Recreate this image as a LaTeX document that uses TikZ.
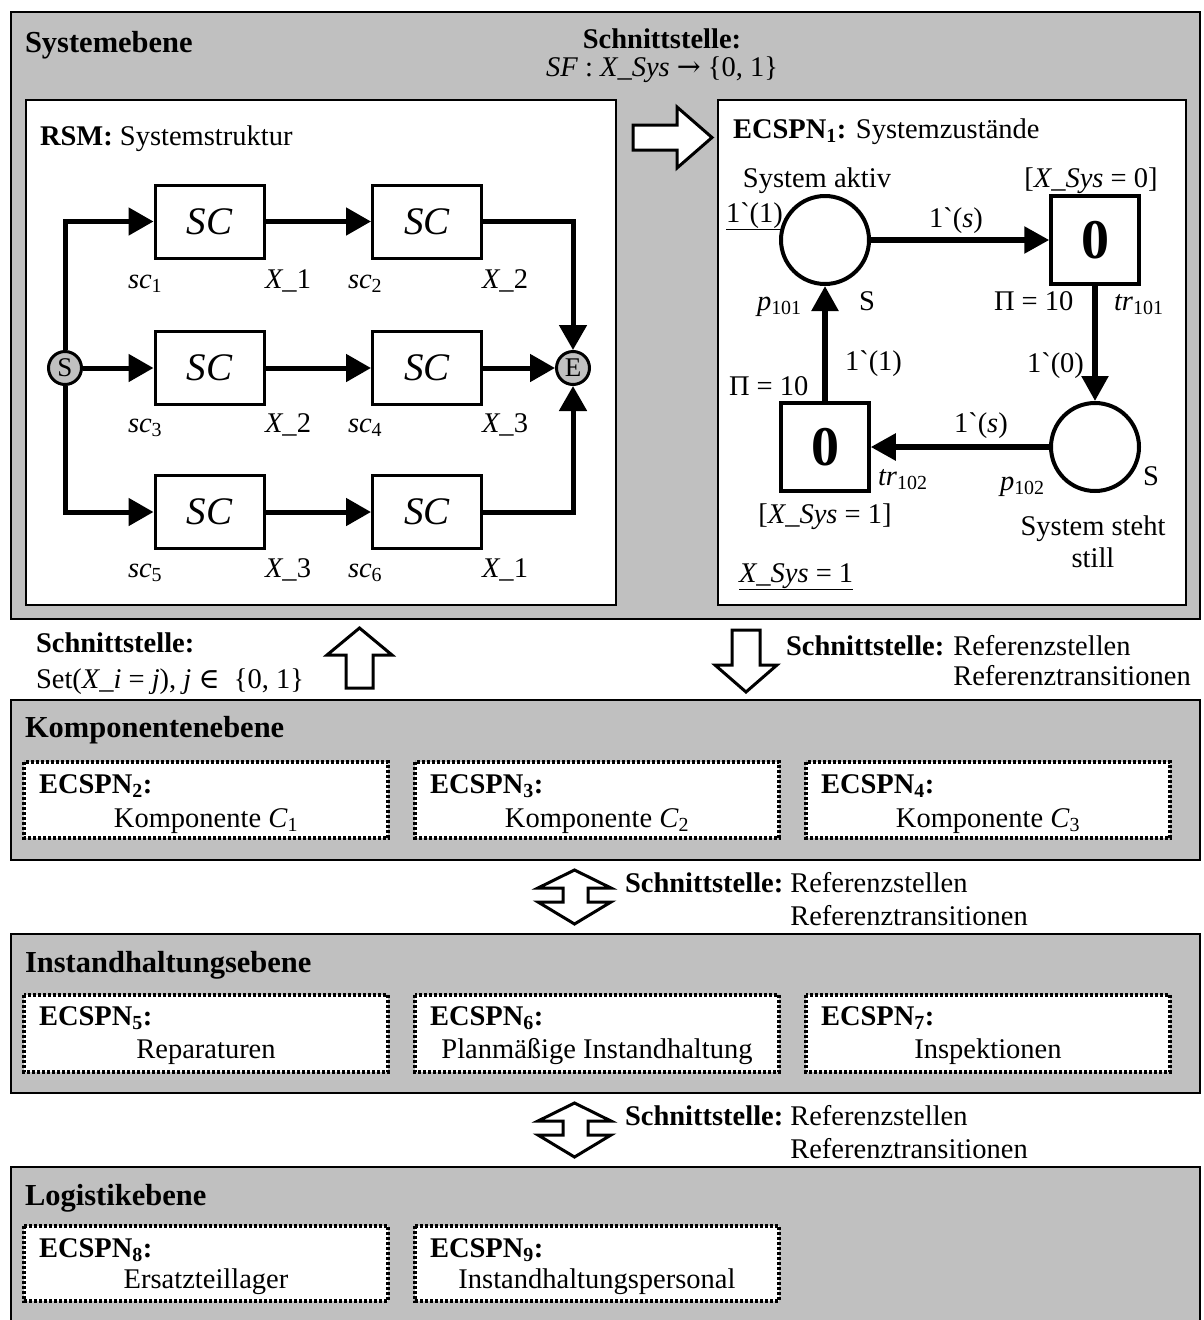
\documentclass[tikz,border=0pt]{standalone}
\usepackage{fontspec}
\setmainfont{Liberation Serif}
\newfontfamily\symserif{DejaVu Serif}
\usetikzlibrary{arrows.meta}
\definecolor{panelgray}{HTML}{C0C0C0}

\newcommand\bodyfs{\fontsize{28.5}{33}\selectfont}
\newcommand\titlefs{\fontsize{30.5}{34}\selectfont\bfseries}
\newcommand\scfs{\fontsize{39}{42}\selectfont\itshape}
\newcommand\zerofs{\fontsize{56}{56}\selectfont\bfseries}
\newcommand\circfs{\fontsize{27}{27}\selectfont}
\newcommand\gv{\textasciigrave}
\newcommand\xsys{\textit{X\_Sys}}

\begin{document}
\begin{tikzpicture}[x=1pt,y=-1pt,
  txt/.style={font=\bodyfs, inner sep=0pt, outer sep=0pt},
  ttl/.style={font=\titlefs, inner sep=0pt, outer sep=0pt, anchor=base west},
  panel/.style={draw, fill=panelgray, line width=2.5pt},
  whitebox/.style={draw, fill=white, line width=2.5pt},
  dotbox/.style={draw, fill=white, line width=3.5pt, dash pattern=on 3pt off 2pt},
  hollow/.style={draw, fill=white, line width=3pt, line join=miter},
  scbox/.style={draw, fill=white, line width=3pt, minimum width=109pt,
    minimum height=73pt, inner sep=0pt, font=\scfs},
  endpt/.style={circle, draw, fill=panelgray, line width=3pt,
    minimum size=33pt, inner sep=0pt, font=\circfs},
  conn/.style={line width=5pt, -{Triangle[length=25pt,width=27pt]}},
  place/.style={circle, draw, fill=white, line width=4pt, minimum size=88pt, inner sep=0pt},
  trans/.style={draw, fill=white, line width=3.5pt, minimum size=88pt, inner sep=0pt, font=\zerofs},
  pnarc/.style={line width=5.5pt, -{Triangle[length=25pt,width=26pt]}}
]
\useasboundingbox (0,0) rectangle (1203,1320);

% ---------------- layer panels ----------------
\draw[panel] (11,12) rectangle (1200,619);
\draw[panel] (11,700) rectangle (1200,860);
\draw[panel] (11,934) rectangle (1200,1093);
\draw[panel] (11,1167) rectangle (1200,1330);

% ---------------- system level ----------------
\node[ttl] (tsys) at (25,52) {Systemebene};
\node[txt, anchor=base, font=\bodyfs\bfseries] (ifc1) at (662,48) {Schnittstelle:};
\node[txt, anchor=base] (ifc1b) at (662,76) {\textit{SF} : \xsys\ {\symserif→} \{0, 1\}};

\draw[whitebox] (26,100) rectangle (616,605);
\draw[whitebox] (718,100) rectangle (1186,605);

% interface arrow between the two models
\draw[hollow] (633,125) -- (677,125) -- (677,107) -- (712,137.5) -- (677,168)
  -- (677,150) -- (633,150) -- cycle;

% reliability structure model
\node[txt, anchor=base west] (rsm) at (40,145) {\textbf{RSM:} Systemstruktur};

\node[endpt] (S) at (65,368) {S};
\node[endpt] (E) at (573,368) {E};

\node[scbox] (c1) at (209.5,221.5) {SC};
\node[scbox] (c2) at (427,221.5) {SC};
\node[scbox] (c3) at (209.5,368) {SC};
\node[scbox] (c4) at (427,368) {SC};
\node[scbox] (c5) at (209.5,512) {SC};
\node[scbox] (c6) at (427,512) {SC};

\draw[conn] (S.north) |- (c1.west);
\draw[conn] (S.east) -- (c3.west);
\draw[conn] (S.south) |- (c5.west);
\draw[conn] (c1.east) -- (c2.west);
\draw[conn] (c3.east) -- (c4.west);
\draw[conn] (c5.east) -- (c6.west);
\draw[conn] (c2.east) -| (E.north);
\draw[conn] (c4.east) -- (E.west);
\draw[conn] (c6.east) -| (E.south);

\node[txt, anchor=base west] (l1) at (128,288) {\textit{sc}\textsubscript{1}};
\node[txt, anchor=base west] (l2) at (265,288) {\textit{X\_}1};
\node[txt, anchor=base west] (l3) at (348,288) {\textit{sc}\textsubscript{2}};
\node[txt, anchor=base west] (l4) at (482,288) {\textit{X\_}2};
\node[txt, anchor=base west] (l5) at (128,432) {\textit{sc}\textsubscript{3}};
\node[txt, anchor=base west] (l6) at (265,432) {\textit{X\_}2};
\node[txt, anchor=base west] (l7) at (348,432) {\textit{sc}\textsubscript{4}};
\node[txt, anchor=base west] (l8) at (482,432) {\textit{X\_}3};
\node[txt, anchor=base west] (l9) at (128,577) {\textit{sc}\textsubscript{5}};
\node[txt, anchor=base west] (l10) at (265,577) {\textit{X\_}3};
\node[txt, anchor=base west] (l11) at (348,577) {\textit{sc}\textsubscript{6}};
\node[txt, anchor=base west] (l12) at (482,577) {\textit{X\_}1};

% Petri net of the system states
\node[txt, anchor=base west] (ecspn1) at (733,138) {\textbf{ECSPN\textsubscript{1}:} Systemzustände};

\node[place] (p101) at (825,240) {};
\node[trans] (t101) at (1095,240) {0};
\node[place] (p102) at (1095,447) {};
\node[trans] (t102) at (825,447) {0};

\draw[pnarc] (p101.east) -- (t101.west);
\draw[pnarc] (t101.south) -- (p102.north);
\draw[pnarc] (p102.west) -- (t102.east);
\draw[pnarc] (t102.north) -- (p101.south);

\node[txt, anchor=base] (aktiv) at (817,187) {System aktiv};
\node[txt, anchor=base] (g101) at (1091,187) {[\xsys\ = 0]};
\node[txt, anchor=base west] (m0) at (726,222) {\underline{1\gv(1)}};
\node[txt, anchor=base] (a1) at (956,227) {1\gv(\textit{s})};
\node[txt, anchor=base west] (np101) at (757,310) {\textit{p}\textsubscript{101}};
\node[txt, anchor=base west] (sp101) at (859,310) {S};
\node[txt, anchor=base west] (pi101) at (994,310) {Π = 10};
\node[txt, anchor=base west] (nt101) at (1114,310) {\textit{tr}\textsubscript{101}};
\node[txt, anchor=base west] (a4) at (845,370) {1\gv(1)};
\node[txt, anchor=base west] (pi102) at (729,395) {Π = 10};
\node[txt, anchor=base west] (a2) at (1027,372) {1\gv(0)};
\node[txt, anchor=base west] (a3) at (954,432) {1\gv(\textit{s})};
\node[txt, anchor=base west] (nt102) at (878,485) {\textit{tr}\textsubscript{102}};
\node[txt, anchor=base west] (np102) at (1000,490) {\textit{p}\textsubscript{102}};
\node[txt, anchor=base west] (sp102) at (1143,485) {S};
\node[txt, anchor=base] (g102) at (825,523) {[\xsys\ = 1]};
\node[txt, anchor=base] (still1) at (1093,535) {System steht};
\node[txt, anchor=base] (still2) at (1093,567) {still};
\node[txt, anchor=base west] (init) at (739,582) {\underline{\xsys\ = 1}};

% ---------------- interfaces below the system level ----------------
\node[txt, anchor=base west] (ifc2) at (36,652) {\textbf{Schnittstelle:}};
\node[txt, anchor=base west] (ifc2b) at (36,688) {Set(\textit{X\_i} = \textit{j}), \textit{j} {\symserif∈}\ \ \{0, 1\}};
\draw[hollow] (346,688) -- (346,655) -- (327,655) -- (359.5,628) -- (392,655)
  -- (373,655) -- (373,688) -- cycle;

\draw[hollow] (732,630) -- (760,630) -- (760,665) -- (777,665) -- (746,692)
  -- (715,665) -- (732,665) -- cycle;
\node[txt, anchor=base west] (ifc3) at (786,655) {\textbf{Schnittstelle:}};
\node[txt, anchor=base west] (ifc3a) at ([xshift=9pt]ifc3.base east) {Referenzstellen};
\node[txt, anchor=base west] (ifc3b) at ([yshift=-30pt]ifc3a.base west) {Referenztransitionen};

% ---------------- component level ----------------
\node[ttl] (tkomp) at (25,737) {Komponentenebene};
\foreach \i/\x/\sub/\name in {2/24/Komponente \textit{C}\textsubscript{1}/k1,
                                3/415/Komponente \textit{C}\textsubscript{2}/k2,
                                4/806/Komponente \textit{C}\textsubscript{3}/k3}{
  \draw[dotbox] (\x,762) rectangle ++(364,76);
  \node[txt, anchor=base west] (\name h) at (\x+15,793) {\textbf{ECSPN\textsubscript{\i}:}};
  \node[txt, anchor=base] (\name s) at (\x+182,827) {\sub};
}

% interface component <-> maintenance
\draw[hollow] (574.5,870) -- (611,888) -- (588,888) -- (588,902) -- (611,902)
  -- (574.5,924) -- (538,902) -- (563,902) -- (563,888) -- (538,888) -- cycle;
\node[txt, anchor=base west] (ifc4) at (625,892) {\textbf{Schnittstelle:}};
\node[txt, anchor=base west] (ifc4a) at ([xshift=7pt]ifc4.base east) {Referenzstellen};
\node[txt, anchor=base west] (ifc4b) at ([yshift=-33pt]ifc4a.base west) {Referenztransitionen};

% ---------------- maintenance level ----------------
\node[ttl] (tinst) at (25,972) {Instandhaltungsebene};
\foreach \i/\x/\sub/\name in {5/24/Reparaturen/m1,
                                6/415/Planmäßige Instandhaltung/m2,
                                7/806/Inspektionen/m3}{
  \draw[dotbox] (\x,995) rectangle ++(364,77);
  \node[txt, anchor=base west] (\name h) at (\x+15,1025) {\textbf{ECSPN\textsubscript{\i}:}};
  \node[txt, anchor=base] (\name s) at (\x+182,1058) {\sub};
}

% interface maintenance <-> logistics
\draw[hollow] (574.5,1103) -- (611,1121) -- (588,1121) -- (588,1135) -- (611,1135)
  -- (574.5,1157) -- (538,1135) -- (563,1135) -- (563,1121) -- (538,1121) -- cycle;
\node[txt, anchor=base west] (ifc5) at (625,1125) {\textbf{Schnittstelle:}};
\node[txt, anchor=base west] (ifc5a) at ([xshift=7pt]ifc5.base east) {Referenzstellen};
\node[txt, anchor=base west] (ifc5b) at ([yshift=-33pt]ifc5a.base west) {Referenztransitionen};

% ---------------- logistics level ----------------
\node[ttl] (tlog) at (25,1205) {Logistikebene};
\foreach \i/\x/\sub/\name in {8/24/Ersatzteillager/g1,
                                9/415/Instandhaltungspersonal/g2}{
  \draw[dotbox] (\x,1226) rectangle ++(364,75);
  \node[txt, anchor=base west] (\name h) at (\x+15,1257) {\textbf{ECSPN\textsubscript{\i}:}};
  \node[txt, anchor=base] (\name s) at (\x+182,1288) {\sub};
}
\end{tikzpicture}
\end{document}
